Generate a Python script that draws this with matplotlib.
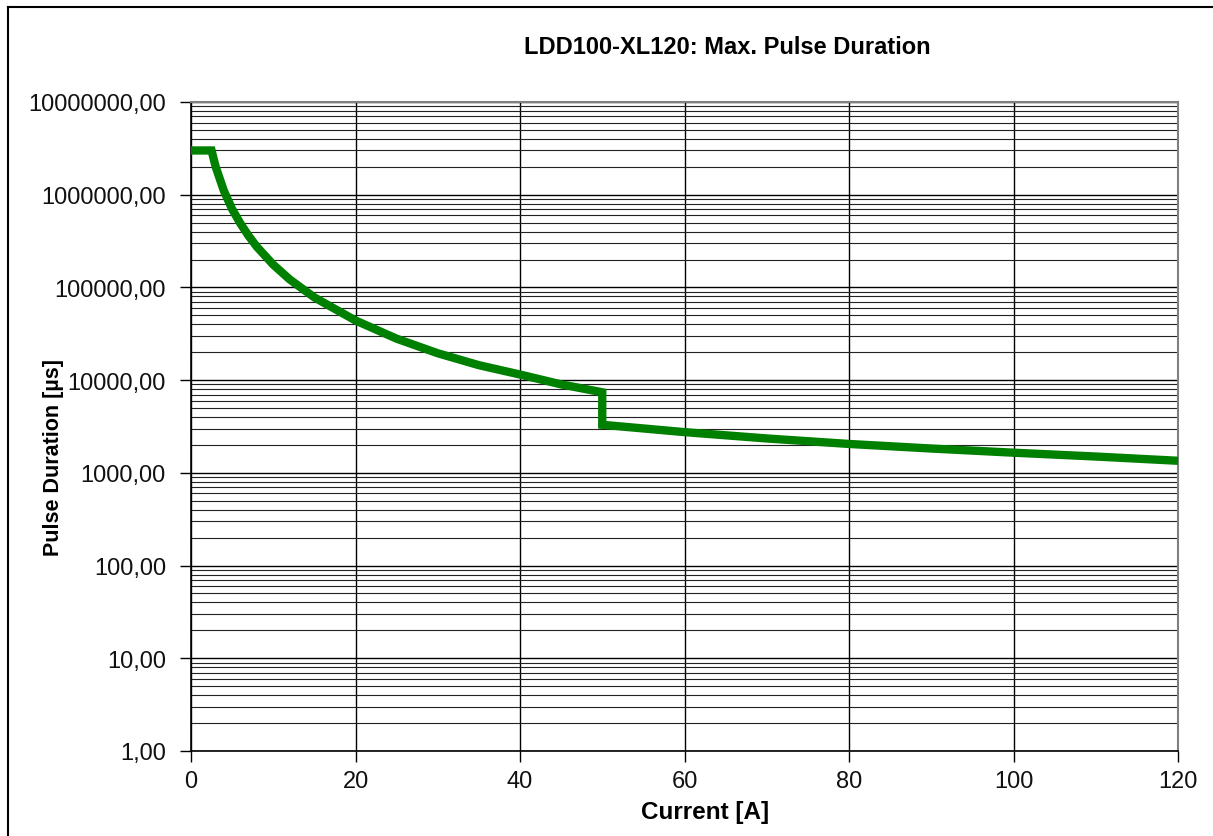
import matplotlib
matplotlib.use("Agg")
import matplotlib.pyplot as plt
from matplotlib.ticker import LogLocator, FixedLocator, FuncFormatter, NullFormatter
from matplotlib.lines import Line2D

plt.rcParams['font.family'] = ['Liberation Sans', 'DejaVu Sans']

# Max. pulse duration curve
current_a = [0, 2.5, 3, 4, 5, 6, 7, 8, 10, 12, 15, 20, 25, 30, 35, 40, 45, 50,
             50, 60, 70, 80, 90, 100, 110, 120]
pulse_us = [3.0e6, 3.0e6, 2.0e6, 1.1e6, 7.0e5, 4.9e5, 3.6e5, 2.75e5, 1.76e5,
            1.22e5, 7.8e4, 4.4e4, 2.8e4, 1.95e4, 1.45e4, 1.15e4, 9.0e3, 7.4e3,
            3.3e3, 2.75e3, 2.35e3, 2.05e3, 1.83e3, 1.65e3, 1.5e3, 1.35e3]

x_ticks = [0, 20, 40, 60, 80, 100, 120]

fig = plt.figure(figsize=(12.13, 8.37), dpi=100)
ax = fig.add_axes([191 / 1213, 1 - 752 / 837, (1178 - 191) / 1213, (752 - 103) / 837])

ax.plot(current_a, pulse_us, color='#008000', lw=6, solid_joinstyle='miter',
        solid_capstyle='butt', zorder=3, clip_on=False)

ax.set_yscale('log')
ax.set_xlim(0, 120)
ax.set_ylim(1, 1e7)
ax.xaxis.set_major_locator(FixedLocator(x_ticks))
ax.yaxis.set_major_locator(LogLocator(base=10, numticks=10))
ax.yaxis.set_minor_locator(LogLocator(base=10, subs=range(2, 10), numticks=20))
ax.yaxis.set_major_formatter(FuncFormatter(lambda v, p: f"{v:.2f}".replace('.', ',')))
ax.yaxis.set_minor_formatter(NullFormatter())

ax.grid(which='major', axis='both', color='black', lw=1.0)
ax.grid(which='minor', axis='y', color='#222222', lw=0.8)
ax.set_axisbelow(True)

ax.tick_params(axis='both', which='major', labelsize=17, length=8, width=1,
               color='black', labelcolor='#111111')
ax.tick_params(axis='y', which='minor', length=0)
ax.tick_params(axis='y', pad=10)
ax.tick_params(axis='x', pad=6)

for side in ['left', 'bottom']:
    ax.spines[side].set_color('black')
    ax.spines[side].set_linewidth(1.2)
for side in ['top', 'right']:
    ax.spines[side].set_color('#808080')
    ax.spines[side].set_linewidth(1.5)

ax.set_xlabel('Current [A]', fontsize=17.5, fontweight='bold')
ax.set_ylabel('Pulse Duration [µs]', fontsize=15.5, fontweight='bold')
ax.xaxis.set_label_coords((705 - 191) / (1178 - 191), -0.075)
ax.yaxis.set_label_coords(-0.129, (752 - 458) / (752 - 103))

fig.text(727 / 1213, 1 - 47 / 837, 'LDD100-XL120: Max. Pulse Duration',
         ha='center', va='center', fontsize=17, fontweight='bold')

# outer chart border (left and top edges visible)
fig.add_artist(Line2D([7.5 / 1213, 7.5 / 1213], [0, 1 - 8 / 837], color='black', lw=1.5,
                      transform=fig.transFigure))
fig.add_artist(Line2D([7.5 / 1213, 1], [1 - 8 / 837, 1 - 8 / 837], color='black', lw=1.5,
                      transform=fig.transFigure))

fig.savefig('out.png', dpi=100)
